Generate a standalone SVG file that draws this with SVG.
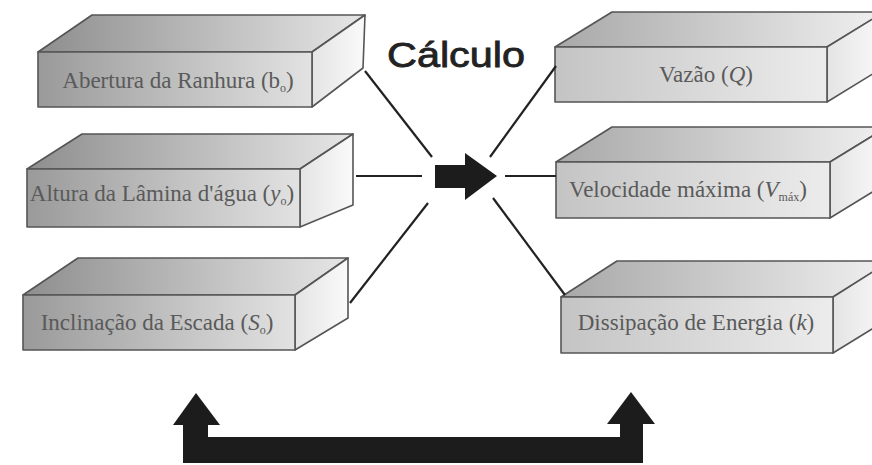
<svg xmlns="http://www.w3.org/2000/svg" width="872" height="465" viewBox="0 0 872 465">
<defs>
<linearGradient id="gFrontL" x1="0" y1="0" x2="1" y2="0"><stop offset="0" stop-color="#9a9a9a"/><stop offset="1" stop-color="#e2e2e2"/></linearGradient>
<linearGradient id="gTopL" x1="0" y1="0" x2="1" y2="0"><stop offset="0" stop-color="#8e8e8e"/><stop offset="1" stop-color="#e6e6e6"/></linearGradient>
<linearGradient id="gFrontR" x1="0" y1="0" x2="1" y2="0"><stop offset="0" stop-color="#c4c4c4"/><stop offset="1" stop-color="#ececec"/></linearGradient>
<linearGradient id="gTopR" x1="0" y1="0" x2="1" y2="0"><stop offset="0" stop-color="#a8a8a8"/><stop offset="1" stop-color="#f0f0f0"/></linearGradient>
<linearGradient id="gSide" x1="0" y1="0" x2="1" y2="0"><stop offset="0" stop-color="#e4e4e4"/><stop offset="1" stop-color="#fafafa"/></linearGradient>
</defs>
<style>
.bx{stroke:#555;stroke-width:1.6;stroke-linejoin:round}
.fl{fill:url(#gFrontL)}.tl{fill:url(#gTopL)}
.fr{fill:url(#gFrontR)}.tr{fill:url(#gTopR)}
.sd{fill:url(#gSide)}
.lbl{font-family:"Liberation Serif","Times New Roman",serif;font-size:23px;fill:#5a5a5a;text-anchor:middle}
.it{font-style:italic}
.sub{font-size:12px}
.ln{stroke:#222;stroke-width:2.2;fill:none}
.blk{fill:#1c1c1c}
</style>
<rect width="872" height="465" fill="#ffffff"/>

<g id="box-abertura">
<polygon class="bx tl" points="38,52 92,15 365,15 312,52"/>
<polygon class="bx sd" points="312,52 365,15 363,68 312,107"/>
<rect class="bx fl" x="38" y="52" width="274" height="55"/>
<text class="lbl" x="178" y="88">Abertura da Ranhura (b<tspan class="sub" dy="4">o</tspan><tspan dy="-4">)</tspan></text>
</g>

<g id="box-altura">
<polygon class="bx tl" points="27,169 82,134 353,134 300,169"/>
<polygon class="bx sd" points="300,169 353,134 353,205 300,227"/>
<rect class="bx fl" x="27" y="169" width="273" height="58"/>
<text class="lbl" x="162" y="201">Altura da Lâmina d'água (<tspan class="it">y</tspan><tspan class="sub" dy="4">o</tspan><tspan dy="-4">)</tspan></text>
</g>

<g id="box-inclinacao">
<polygon class="bx tl" points="23,295 78,258 348,258 295,295"/>
<polygon class="bx sd" points="295,295 348,258 348,318 295,350"/>
<rect class="bx fl" x="23" y="295" width="272" height="55"/>
<text class="lbl" x="157" y="330">Inclinação da Escada (<tspan class="it">S</tspan><tspan class="sub" dy="4">o</tspan><tspan dy="-4">)</tspan></text>
</g>

<g id="box-vazao">
<polygon class="bx tr" points="555,47 612,12 884,12 827,47"/>
<polygon class="bx sd" points="827,47 884,12 884,67 827,102"/>
<rect class="bx fr" x="555" y="47" width="272" height="55"/>
<text class="lbl" x="706" y="82">Vazão (<tspan class="it">Q</tspan>)</text>
</g>

<g id="box-velocidade">
<polygon class="bx tr" points="556,162 612,127 887,127 830,162"/>
<polygon class="bx sd" points="830,162 887,127 887,183 830,218"/>
<rect class="bx fr" x="556" y="162" width="274" height="56"/>
<text class="lbl" x="688" y="197">Velocidade máxima (<tspan class="it">V</tspan><tspan class="sub" dy="4">máx</tspan><tspan dy="-4">)</tspan></text>
</g>

<g id="box-dissipacao">
<polygon class="bx tr" points="561,297 617,261 890,261 833,297"/>
<polygon class="bx sd" points="833,297 890,261 890,318 833,353"/>
<rect class="bx fr" x="561" y="297" width="272" height="56"/>
<text class="lbl" x="696" y="330">Dissipação de Energia (<tspan class="it">k</tspan>)</text>
</g>

<g id="calculo">
<text x="387" y="67" font-family="'Liberation Sans',Arial,sans-serif" font-size="35" fill="#222" stroke="#222" stroke-width="0.8" textLength="138" lengthAdjust="spacingAndGlyphs">Cálculo</text>
<polygon class="blk" points="435,165 465,165 465,153 497,176 465,200 465,188 435,188"/>
</g>

<g id="connectors">
<line class="ln" x1="365" y1="71" x2="432" y2="157"/>
<line class="ln" x1="356" y1="176" x2="422" y2="176"/>
<line class="ln" x1="428" y1="203" x2="350" y2="303"/>
<line class="ln" x1="490" y1="157" x2="556" y2="66"/>
<line class="ln" x1="505" y1="176" x2="556" y2="176"/>
<line class="ln" x1="493" y1="198" x2="565" y2="295"/>
<polygon class="blk" points="183,463 183,425 173,425 196,393 220,425 208,425 208,437 620,437 620,424 607,424 631,392 655,424 643,424 643,463"/>
</g>
</svg>
